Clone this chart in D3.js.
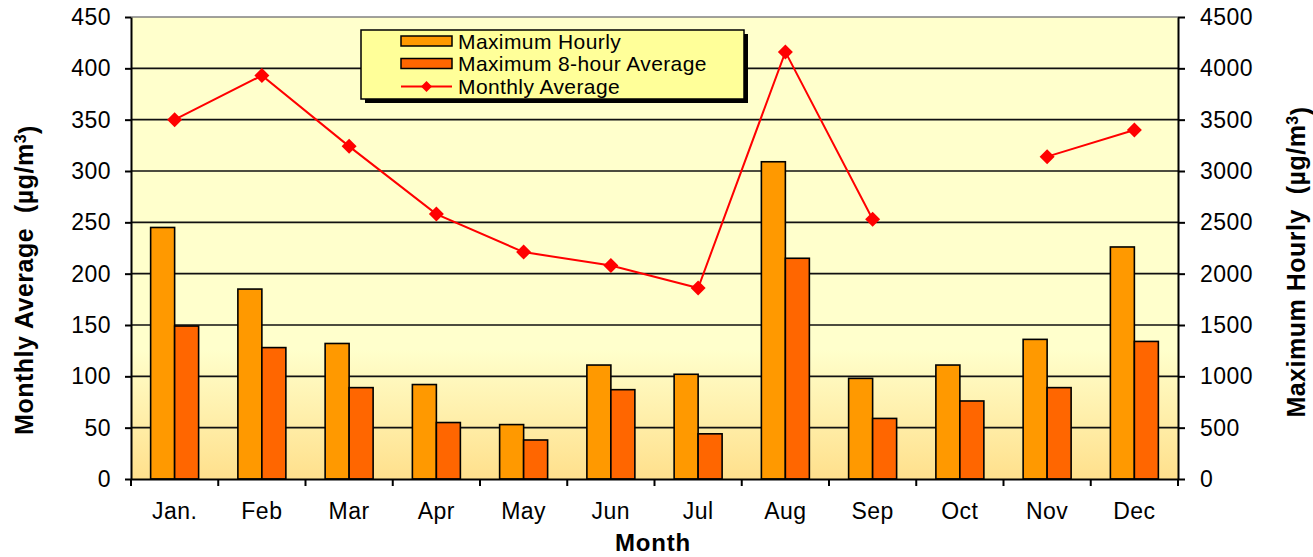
<!DOCTYPE html>
<html>
<head>
<meta charset="utf-8">
<script src="https://cdn.jsdelivr.net/npm/d3@7"></script>
<style>
  html, body { margin: 0; padding: 0; background: #fff; }
  svg { display: block; font-family: "Liberation Sans", Arial, sans-serif; }
</style>
</head>
<body>
<svg id="chart" width="1313" height="557"></svg>
<script>
// Monthly concentration summary
const months = ["Jan.", "Feb", "Mar", "Apr", "May", "Jun", "Jul", "Aug", "Sep", "Oct", "Nov", "Dec"];
const maxHourly = [2450, 1850, 1320, 920, 530, 1110, 1020, 3090, 980, 1110, 1360, 2260];
const max8Hour = [1490, 1280, 890, 550, 380, 870, 440, 2150, 590, 760, 890, 1340];
const monthlyAvg = [350, 393, 324, 258, 221, 208, 186, 416, 253, null, 314, 340];
const leftTicks = [0, 50, 100, 150, 200, 250, 300, 350, 400, 450];
const rightTicks = [0, 500, 1000, 1500, 2000, 2500, 3000, 3500, 4000, 4500];
const seriesNames = ["Maximum Hourly", "Maximum 8-hour Average", "Monthly Average"];
const barColors = ["#FF9900", "#FF6600"];
const lineColor = "#FF0000";

const svg = d3.select("#chart");
const plot = { left: 131, right: 1178, top: 17, bottom: 479 };

const x = d3.scaleBand().domain(months).range([plot.left, plot.right]).padding(0);
const xSub = d3.scaleBand().domain([0, 1])
  .range([x.bandwidth() * 0.225, x.bandwidth() * 0.775]).padding(0);
const yL = d3.scaleLinear().domain([0, 450]).range([plot.bottom, plot.top]);
const yR = d3.scaleLinear().domain([0, 4500]).range([plot.bottom, plot.top]);

// plot area background with warm gradient near the floor
const defs = svg.append("defs");
const grad = defs.append("linearGradient").attr("id", "bg")
  .attr("x1", 0).attr("y1", 0).attr("x2", 0).attr("y2", 1);
grad.append("stop").attr("offset", "0").attr("stop-color", "#FFFFCC");
grad.append("stop").attr("offset", "0.72").attr("stop-color", "#FFFFCC");
grad.append("stop").attr("offset", "1").attr("stop-color", "#FFE08C");

svg.append("rect")
  .attr("x", plot.left).attr("y", plot.top)
  .attr("width", plot.right - plot.left).attr("height", plot.bottom - plot.top)
  .attr("fill", "url(#bg)");

// horizontal gridlines
svg.append("g").selectAll("line").data(leftTicks.filter(d => d > 0)).join("line")
  .attr("x1", plot.left).attr("x2", plot.right)
  .attr("y1", d => yL(d)).attr("y2", d => yL(d))
  .attr("stroke", d => d === 450 ? "#808080" : "#111")
  .attr("stroke-width", 1.6);

// bars (read on the right-hand axis)
const groups = svg.append("g").selectAll("g").data(months).join("g")
  .attr("transform", d => `translate(${x(d)},0)`);
[maxHourly, max8Hour].forEach((vals, k) => {
  groups.append("rect")
    .attr("x", xSub(k))
    .attr("width", xSub.bandwidth())
    .attr("y", (d, i) => yR(vals[i]))
    .attr("height", (d, i) => yR(0) - yR(vals[i]))
    .attr("fill", barColors[k])
    .attr("stroke", "#000")
    .attr("stroke-width", 1.6);
});

// monthly average line (left axis)
const line = d3.line()
  .defined(d => d.v != null)
  .x(d => x(d.m) + x.bandwidth() / 2)
  .y(d => yL(d.v));
const lineData = months.map((m, i) => ({ m, v: monthlyAvg[i] }));
svg.append("path").datum(lineData)
  .attr("d", line).attr("fill", "none")
  .attr("stroke", lineColor).attr("stroke-width", 2);

const diamond = r => `M0,${-r}L${r},0L0,${r}L${-r},0Z`;
svg.append("g").selectAll("path").data(lineData.filter(d => d.v != null)).join("path")
  .attr("transform", d => `translate(${x(d.m) + x.bandwidth() / 2},${yL(d.v)})`)
  .attr("d", diamond(7.5))
  .attr("fill", lineColor);

// axes
const axisLeft = d3.axisLeft(yL).tickValues(leftTicks).tickFormat(d3.format("d"))
  .tickSize(6).tickPadding(14);
const axisRight = d3.axisRight(yR).tickValues(rightTicks).tickFormat(d3.format("d"))
  .tickSize(7).tickPadding(15);
const axisBottom = d3.axisBottom(x).tickSize(0).tickPadding(24);

function styleAxis(g) {
  g.select(".domain").attr("stroke", "#000").attr("stroke-width", 2);
  g.selectAll(".tick line").attr("stroke", "#000").attr("stroke-width", 2);
  g.selectAll(".tick text").attr("fill", "#000")
    .style("font-size", "23px")
    .style("font-family", "'Liberation Sans', Arial, sans-serif")
    .attr("letter-spacing", "0.5px");
}

svg.append("g").attr("transform", `translate(${plot.left},0)`)
  .call(axisLeft.tickSizeOuter(0)).call(styleAxis);
svg.append("g").attr("transform", `translate(${plot.right},0)`)
  .call(axisRight.tickSizeOuter(0)).call(styleAxis);

const gx = svg.append("g").attr("transform", `translate(0,${plot.bottom})`)
  .call(axisBottom.tickSizeOuter(0)).call(styleAxis);
gx.selectAll(".tick text").attr("dy", "0.71em");

// category boundary ticks under the x axis
const bounds = months.map(m => x(m)).concat([plot.right]);
svg.append("g").selectAll("line").data(bounds).join("line")
  .attr("x1", d => d).attr("x2", d => d)
  .attr("y1", plot.bottom).attr("y2", plot.bottom + 7)
  .attr("stroke", "#000").attr("stroke-width", 2);

// axis titles
svg.append("text")
  .attr("x", 653).attr("y", 551)
  .attr("text-anchor", "middle")
  .style("font-size", "24px").style("font-weight", "bold")
  .attr("letter-spacing", "0.8px")
  .text("Month");

function unitTitle(label, tx, ty) {
  const t = svg.append("text")
    .attr("transform", `translate(${tx},${ty}) rotate(-90)`)
    .attr("text-anchor", "middle")
    .style("font-size", "25px").style("font-weight", "bold")
    .style("white-space", "pre")
    .attr("letter-spacing", "0.5px");
  t.append("tspan").text(label + "  (µg/m");
  t.append("tspan").attr("dy", "-0.45em").style("font-size", "16px").text("3");
  t.append("tspan").attr("dy", "0.45em").text(")");
}
unitTitle("Monthly Average", 33, 280);
unitTitle("Maximum Hourly", 1305, 262);

// legend
const lg = svg.append("g").attr("transform", "translate(361,30)");
lg.append("rect").attr("x", 4).attr("y", 4).attr("width", 383).attr("height", 69).attr("fill", "#000");
lg.append("rect").attr("width", 383).attr("height", 69)
  .attr("fill", "#FFFF99").attr("stroke", "#000").attr("stroke-width", 1.5);

const rowsY = [11, 33.5, 56.5];
barColors.forEach((c, k) => {
  lg.append("rect").attr("x", 40).attr("y", rowsY[k] - 5).attr("width", 51).attr("height", 10)
    .attr("fill", c).attr("stroke", "#000").attr("stroke-width", 1.5);
});
lg.append("line").attr("x1", 40).attr("x2", 91).attr("y1", rowsY[2]).attr("y2", rowsY[2])
  .attr("stroke", lineColor).attr("stroke-width", 2);
lg.append("path").attr("transform", `translate(65.5,${rowsY[2]})`).attr("d", diamond(5.5)).attr("fill", lineColor);

lg.selectAll("text.lab").data(seriesNames).join("text")
  .attr("class", "lab")
  .attr("x", 97).attr("y", (d, i) => rowsY[i])
  .attr("dy", "0.36em")
  .style("font-size", "21px")
  .attr("letter-spacing", "0.4px")
  .text(d => d);
</script>
</body>
</html>
